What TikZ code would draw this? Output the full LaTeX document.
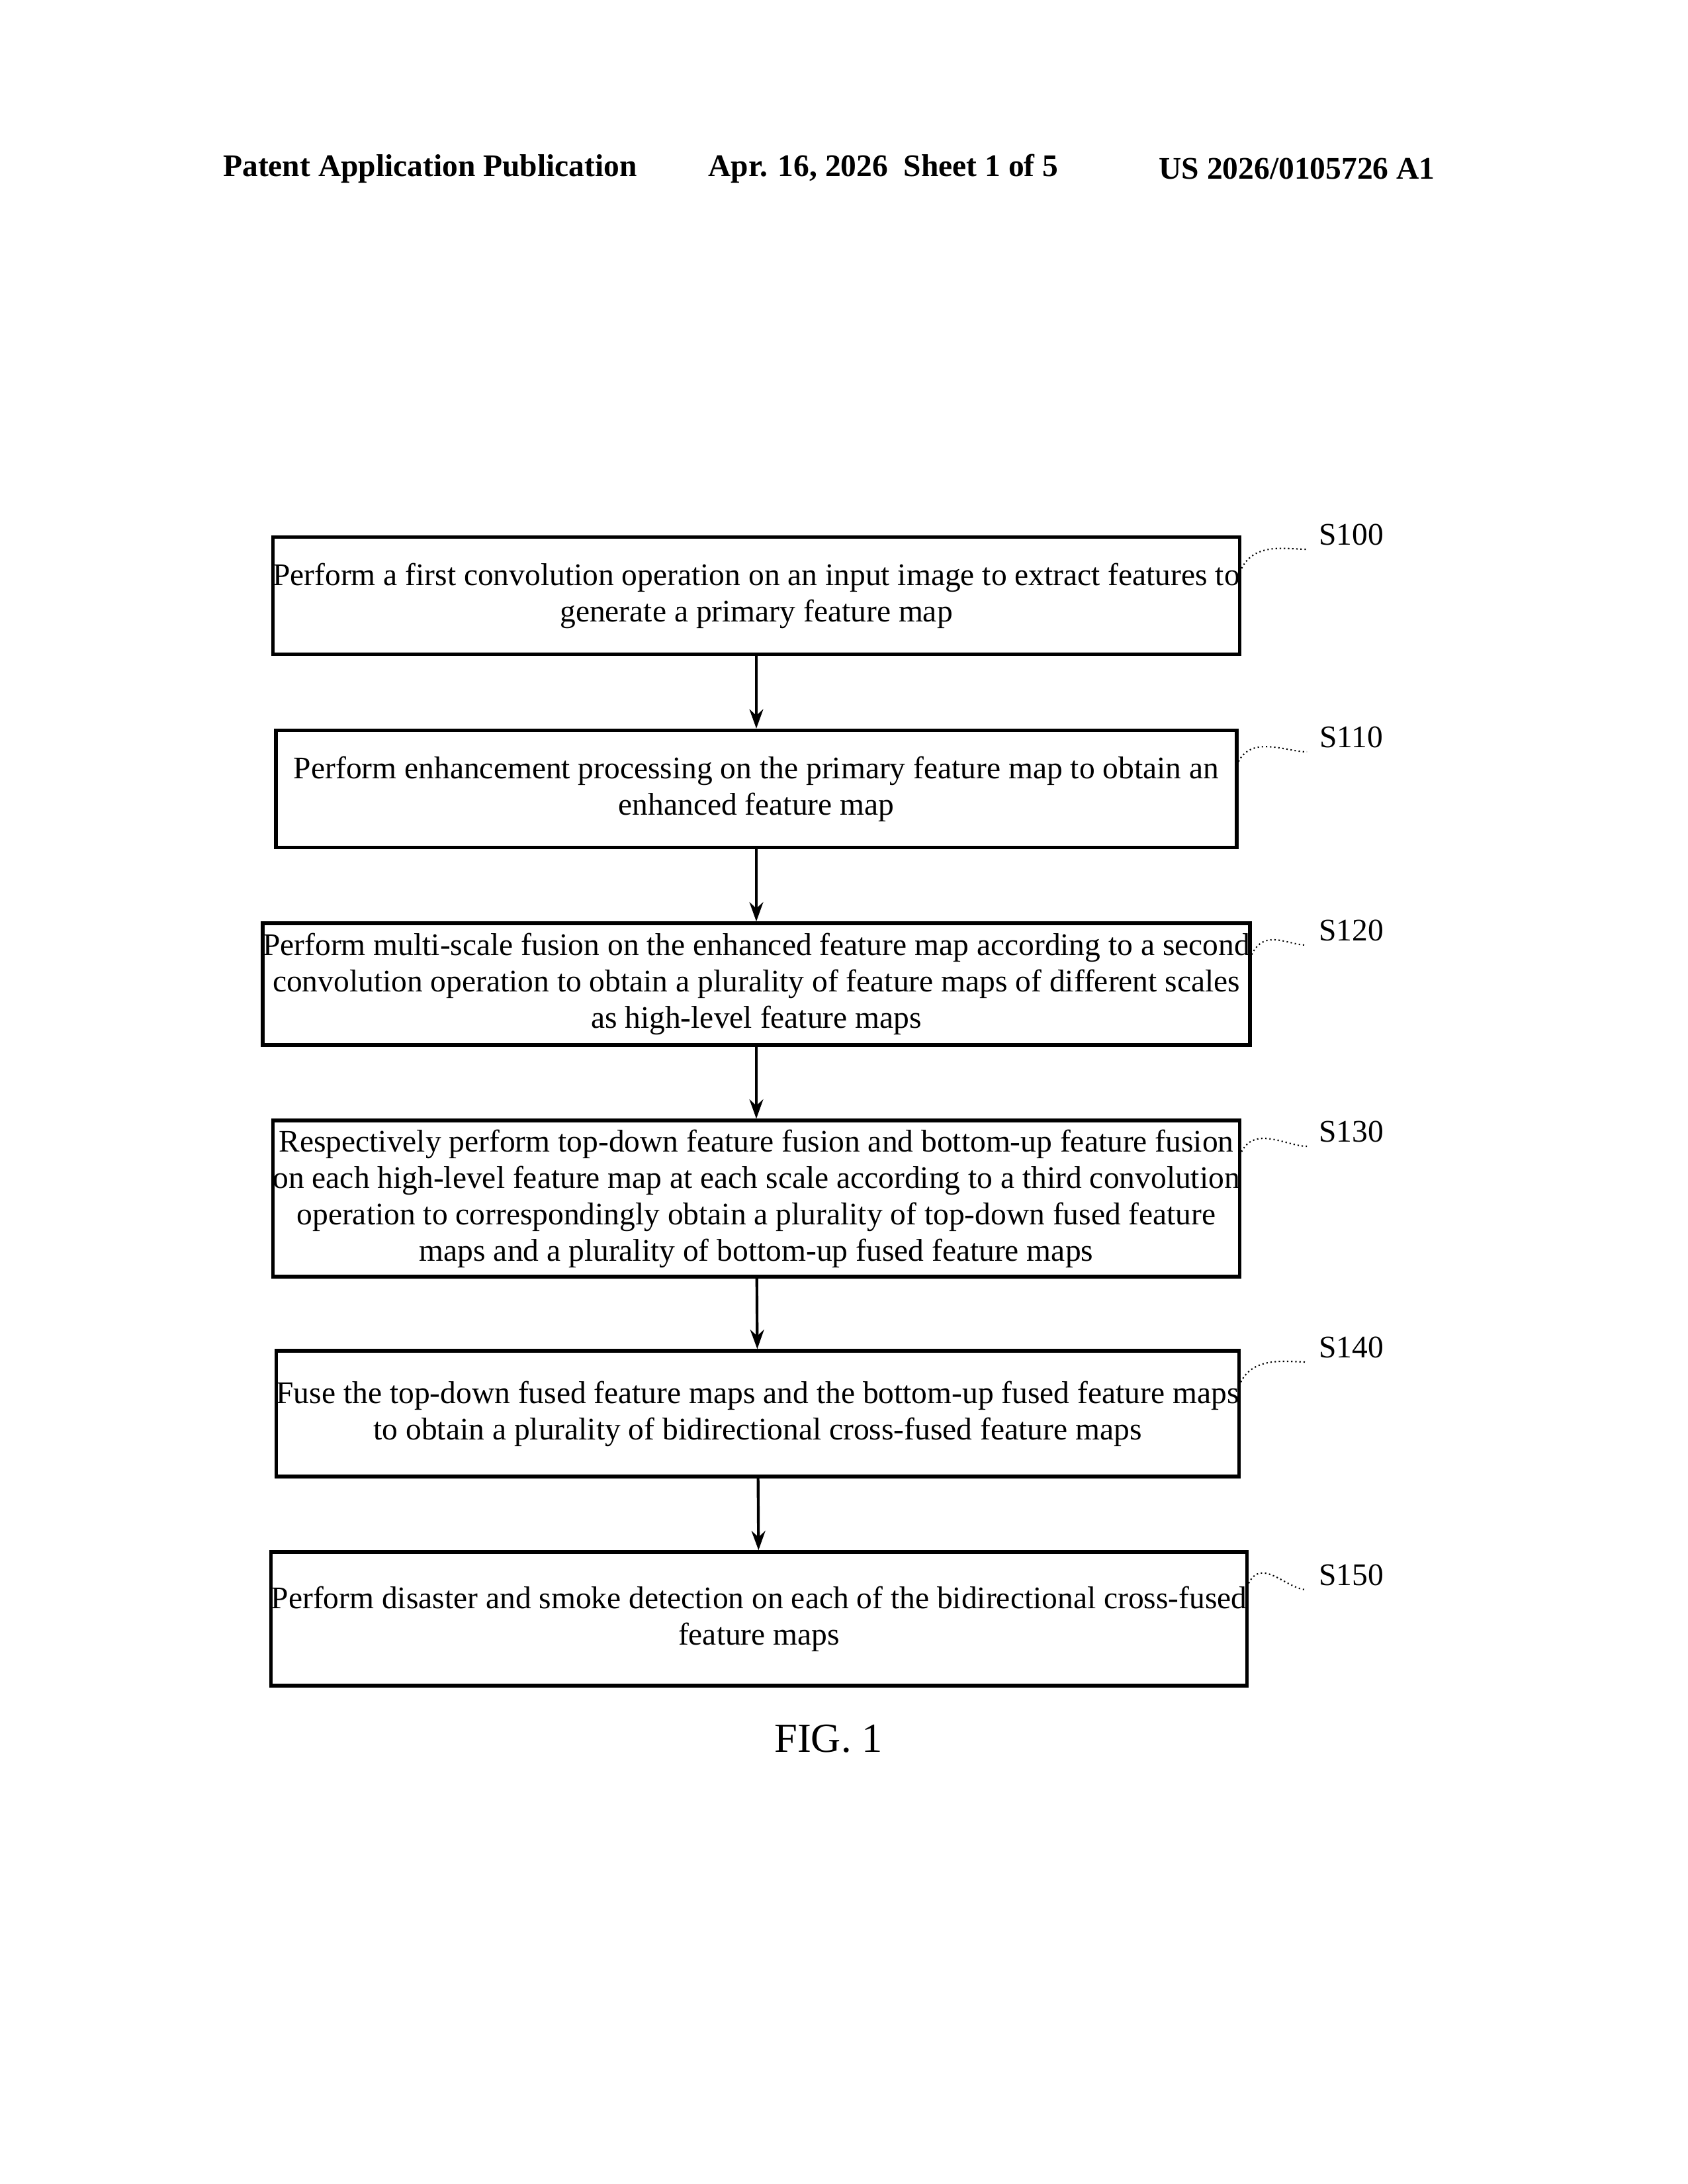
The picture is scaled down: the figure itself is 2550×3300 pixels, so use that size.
\documentclass[tikz,border=0pt]{standalone}
\usepackage{fontspec}
\setmainfont{Liberation Serif}
\usetikzlibrary{arrows.meta}
\begin{document}
\begin{tikzpicture}[x=0.24pt,y=-0.24pt,
  box/.style={draw,line width=1.3pt,minimum width=1452*0.24pt,align=center,inner sep=0pt,font=\fontsize{11.4}{13.2}\selectfont},
  arr/.style={-{Stealth[length=7pt,width=5pt]},line width=1pt},
  lbl/.style={font=\fontsize{11.4}{13}\selectfont},
  hd/.style={font=\bfseries\fontsize{11.4}{13}\selectfont},
  sq/.style={line width=0.5pt,densely dotted}]
\useasboundingbox (0,0) rectangle (2550,3300);
\node[hd] (h1) at (650,255) {Patent Application Publication};
\node[hd] (h2) at (1335,255) {Apr. 16, 2026\ \ Sheet 1 of 5};
\node[hd] (h3) at (1960,255) {US 2026/0105726 A1};
\node[box,minimum height=177*0.24pt] (b1) at (1143,900) {Perform a first convolution operation on an input image to extract features to\\generate a primary feature map};
\node[box,minimum height=177*0.24pt] (b2) at (1143,1192) {Perform enhancement processing on the primary feature map to obtain an\\enhanced feature map};
\node[box,minimum height=184*0.24pt] (b3) at (1143,1487) {Perform multi-scale fusion on the enhanced feature map according to a second\\convolution operation to obtain a plurality of feature maps of different scales\\as high-level feature maps};
\node[box,minimum height=236*0.24pt] (b4) at (1143,1811) {Respectively perform top-down feature fusion and bottom-up feature fusion\\on each high-level feature map at each scale according to a third convolution\\operation to correspondingly obtain a plurality of top-down fused feature\\maps and a plurality of bottom-up fused feature maps};
\node[box,minimum height=190*0.24pt] (b5) at (1145,2136) {Fuse the top-down fused feature maps and the bottom-up fused feature maps\\to obtain a plurality of bidirectional cross-fused feature maps};
\node[box,minimum height=202*0.24pt] (b6) at (1147,2446) {Perform disaster and smoke detection on each of the bidirectional cross-fused\\feature maps};
\draw[arr] (b1) -- (b2);
\draw[arr] (b2) -- (b3);
\draw[arr] (b3) -- (b4);
\draw[arr] (b4) -- (b5);
\draw[arr] (b5) -- (b6);
\foreach \b/\t/\y in {b1/S100/808,b2/S110/1114,b3/S120/1406,b4/S130/1710,b5/S140/2036,b6/S150/2380}{
  \node[lbl] (l\b) at (2042,\y) {\t};
  \coordinate (c\b) at (1975,\y+22);
  \draw[sq] ([yshift=-12pt]\b.north east) .. controls +(20,-40) and +(-30,0) .. (c\b);
}
\node[font=\fontsize{15}{17}\selectfont] (fig) at (1252,2627) {FIG. 1};
\end{tikzpicture}
\end{document}
